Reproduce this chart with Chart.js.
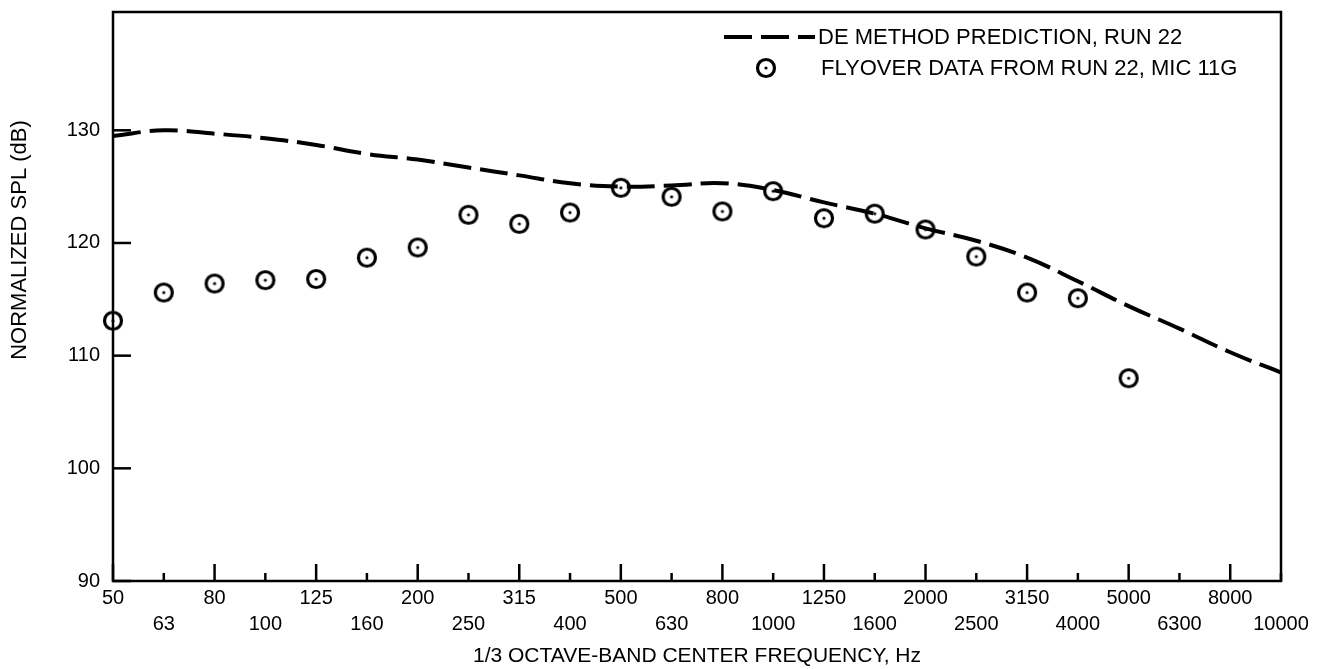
<!DOCTYPE html>
<html>
<head>
<meta charset="utf-8">
<script src="https://cdn.jsdelivr.net/npm/chart.js@4.4.1/dist/chart.umd.min.js"></script>
<style>
  html, body { margin: 0; padding: 0; background: #fff; }
  #wrap { width: 1336px; height: 669px; position: relative; }
</style>
</head>
<body>
<div id="wrap"><canvas id="splChart"></canvas></div>
<script>
/* ------------------------- DATA ------------------------- */
// bandes de tiers d'octave (Hz)
const bandLabels = ['50', '63', '80', '100', '125', '160', '200', '250', '315', '400', '500', '630',
  '800', '1000', '1250', '1600', '2000', '2500', '3150', '4000', '5000', '6300', '8000', '10000'];

// courbe prédite (méthode DE), une valeur par bande
const predictionSPL = [129.5, 130.0, 129.7, 129.3, 128.7, 127.9, 127.4, 126.7, 126.0, 125.3, 125.0, 125.1,
  125.3, 124.7, 123.6, 122.6, 121.3, 120.2, 118.7, 116.6, 114.4, 112.4, 110.3, 108.5];

// mesures survol, run 22 micro 11G (50 Hz -> 5000 Hz)
const flyoverSPL = [113.1, 115.6, 116.4, 116.7, 116.8, 118.7, 119.6, 122.5, 121.7, 122.7, 124.9, 124.1,
  122.8, 124.6, 122.2, 122.6, 121.2, 118.8, 115.6, 115.1, 108.0];

const yTickValues = [90, 100, 110, 120, 130];

const legendLine = 'DE METHOD PREDICTION, RUN 22';
const legendPoints = 'FLYOVER DATA FROM RUN 22, MIC 11G';
const yTitle = 'NORMALIZED SPL (dB)';

/* ------------------------- STYLE ------------------------- */
const FONT = '"Liberation Sans", Arial, Helvetica, sans-serif';
const DASH = [28, 9];

// marqueur : cercle avec point central
function makeMarker() {
  const c = document.createElement('canvas');
  c.width = 24; c.height = 24;
  const g = c.getContext('2d');
  g.strokeStyle = '#000';
  g.lineWidth = 3.2;
  g.beginPath(); g.arc(12, 12, 8.5, 0, Math.PI * 2); g.stroke();
  g.fillStyle = '#000';
  g.beginPath(); g.arc(12, 12, 1.6, 0, Math.PI * 2); g.fill();
  return c;
}
const marker = makeMarker();

/* ------------------------- Cadre, graduations, légende ------------------------- */
const framePlugin = {
  id: 'frame',
  afterDatasetsDraw(chart) {
    const { ctx, chartArea: a, scales: { x, y } } = chart;
    ctx.save();
    ctx.strokeStyle = '#000';
    ctx.lineWidth = 2.5;
    ctx.strokeRect(a.left, a.top, a.right - a.left, a.bottom - a.top);

    // graduations vers l'intérieur
    bandLabels.forEach((_, i) => {
      const px = x.getPixelForValue(i);
      const len = i % 2 === 0 ? 17 : 8;
      ctx.beginPath(); ctx.moveTo(px, a.bottom); ctx.lineTo(px, a.bottom - len); ctx.stroke();
    });
    yTickValues.forEach(v => {
      const py = y.getPixelForValue(v);
      ctx.beginPath(); ctx.moveTo(a.left, py); ctx.lineTo(a.left + 18, py); ctx.stroke();
    });

    // légende
    ctx.font = '22px ' + FONT;
    ctx.fillStyle = '#000';
    ctx.textBaseline = 'middle';
    ctx.textAlign = 'left';
    ctx.lineWidth = 4;
    ctx.setLineDash(DASH);
    ctx.beginPath(); ctx.moveTo(724, 37); ctx.lineTo(815, 37); ctx.stroke();
    ctx.setLineDash([]);
    ctx.fillText(legendLine, 818, 38);
    ctx.drawImage(marker, 766 - 12, 68 - 12);
    ctx.fillText(legendPoints, 821, 69);

    // titre de l'axe vertical
    ctx.translate(20, 240);
    ctx.rotate(-Math.PI / 2);
    ctx.textAlign = 'center';
    ctx.font = '22px ' + FONT;
    ctx.fillText(yTitle, 0, 0);
    ctx.restore();
  }
};

/* ------------------------- Chart ------------------------- */
new Chart(document.getElementById('splChart'), {
  type: 'line',
  data: {
    datasets: [
      {
        label: legendLine,
        data: predictionSPL.map((v, i) => ({ x: i, y: v })),
        borderColor: '#000',
        borderWidth: 4,
        borderDash: DASH,
        tension: 0.4,
        pointRadius: 0,
        fill: false
      },
      {
        label: legendPoints,
        data: flyoverSPL.map((v, i) => ({ x: i, y: v })),
        showLine: false,
        pointStyle: marker,
        pointRadius: 10,
        clip: false
      }
    ]
  },
  options: {
    responsive: true,
    maintainAspectRatio: false,
    animation: false,
    layout: { padding: { left: 0, right: 55, top: 12, bottom: 0 } },
    plugins: { legend: { display: false }, tooltip: { enabled: false } },
    scales: {
      x: {
        type: 'linear',
        min: 0,
        max: bandLabels.length - 1,
        afterBuildTicks: s => { s.ticks = bandLabels.map((_, i) => ({ value: i })); },
        afterFit: s => { s.height = 88; },
        grid: { display: false, drawTicks: false },
        border: { display: false },
        ticks: {
          autoSkip: false,
          maxRotation: 0,
          minRotation: 0,
          padding: 4,
          color: '#000',
          font: { family: FONT, size: 20, lineHeight: 1.3 },
          callback: v => {
            const i = Math.round(v);
            return i % 2 === 0 ? [bandLabels[i], ''] : ['', bandLabels[i]];
          }
        },
        title: {
          display: true,
          text: '1/3 OCTAVE-BAND CENTER FREQUENCY, Hz',
          color: '#000',
          font: { family: FONT, size: 21 },
          padding: { top: 0, bottom: 0 }
        }
      },
      y: {
        min: 90,
        max: 140.5,
        afterBuildTicks: s => { s.ticks = yTickValues.map(v => ({ value: v })); },
        afterFit: s => { s.width = 113; s.paddingTop = 0; s.paddingBottom = 0; },
        grid: { display: false, drawTicks: false },
        border: { display: false },
        ticks: {
          padding: 13,
          color: '#000',
          font: { family: FONT, size: 20 }
        }
      }
    }
  },
  plugins: [framePlugin]
});
</script>
</body>
</html>
